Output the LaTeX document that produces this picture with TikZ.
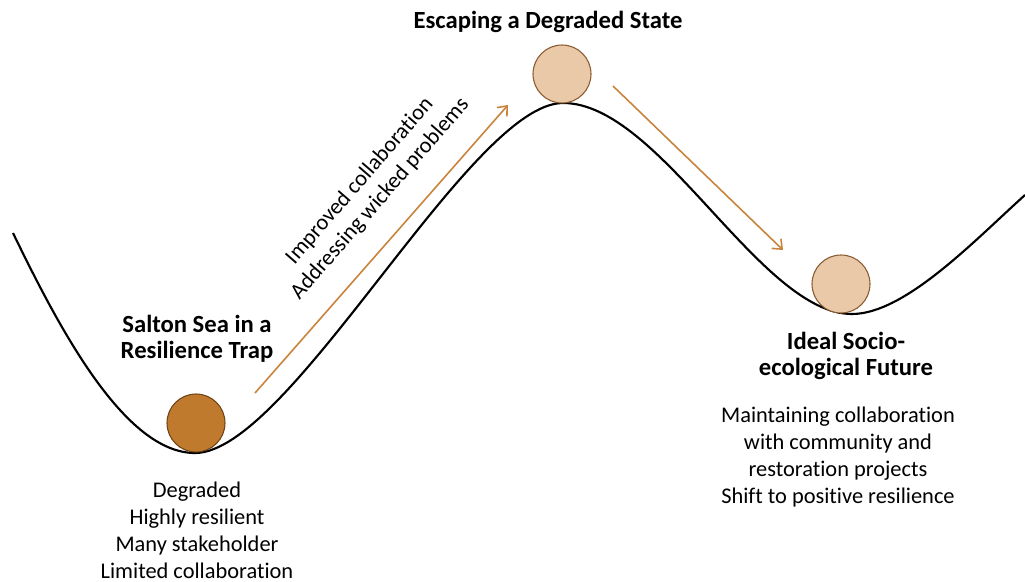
\documentclass[tikz,border=0pt]{standalone}
\usepackage{fontspec}
\setmainfont{Carlito}[RawFeature={-liga;-clig;-dlig;-calt}]
\usetikzlibrary{arrows.meta}
\definecolor{arrowc}{HTML}{C8843C}
\definecolor{balldark}{HTML}{C07A2E}
\definecolor{balldarkline}{HTML}{6E4418}
\definecolor{balllight}{HTML}{EAC9A8}
\definecolor{balllightline}{HTML}{8A5A30}
\tikzset{
  landscape/.style={line width=1.6pt, black},
  flow/.style={arrowc, line width=1.2pt, -{Straight Barb[length=6pt,width=10pt]}},
  ball/.style={circle, minimum size=43.5pt, inner sep=0pt, line width=0.8pt},
  title/.style={font=\fontsize{18.5}{19.5}\selectfont\bfseries, align=center},
  body/.style={font=\fontsize{16.8}{20.25}\selectfont, align=center},
}
\begin{document}
\begin{tikzpicture}[x=0.75pt,y=-0.75pt]
\useasboundingbox (0,0) rectangle (1025,582);
\draw[landscape] (13,233) .. controls (60,330) and (125,453) .. (195,453)
  .. controls (290,453) and (470,103) .. (563,103)
  .. controls (660,103) and (760,314) .. (852,314)
  .. controls (905,314) and (975,240) .. (1025,195);
\node[ball, draw=balldarkline, fill=balldark] (b1) at (196,423) {};
\node[ball, draw=balllightline, fill=balllight] (b2) at (562,74) {};
\node[ball, draw=balllightline, fill=balllight] (b3) at (841,284) {};
\coordinate (a1s) at (255,393);
\coordinate (a1e) at (508,105);
\coordinate (a2s) at (613,86);
\coordinate (a2e) at (783,250);
\draw[flow] (a1s) -- (a1e);
\draw[flow] (a2s) -- (a2e);
\node[title] (t1) at (548,22) {Escaping a Degraded State};
\node[title] (t2) at (197,339) {Salton Sea in a\\Resilience Trap};
\node[title] (t3) at (846,356) {Ideal Socio-\\ecological Future};
\node[body, rotate=49] (rot) at (370,190) {Improved collaboration\\Addressing wicked problems};
\node[body] (d3) at (838,457) {Maintaining collaboration\\with community and\\restoration projects\\Shift to positive resilience};
\node[body] (d1) at (197,530) {Degraded\\Highly resilient\\Many stakeholder\\Limited collaboration};
\end{tikzpicture}
\end{document}
